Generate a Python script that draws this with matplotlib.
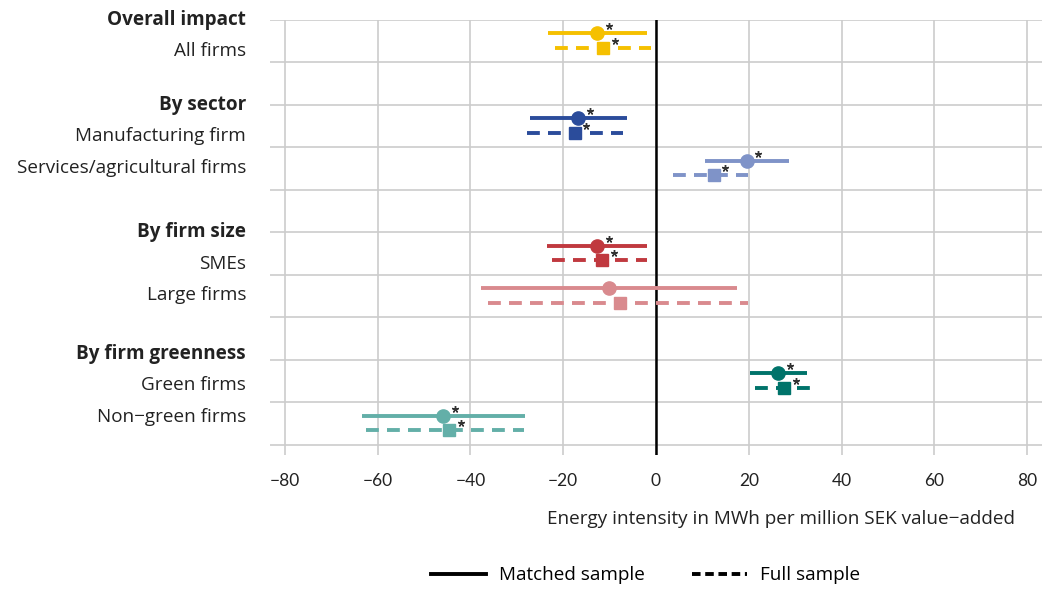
import numpy as np
import matplotlib.pyplot as plt
from matplotlib.lines import Line2D
from matplotlib.transforms import blended_transform_factory, ScaledTranslation

plt.rcParams['font.family'] = ['Open Sans', 'DejaVu Sans']

# Estimates and confidence bounds
categories = ["All firms", "Manufacturing firm", "Services/agricultural firms",
              "SMEs", "Large firms", "Green firms", "Non\u2212green firms"]
matched_est = [-12.7, -16.8, 19.6, -12.7, -10.1, 26.3, -45.9]
matched_lo = [-23.3, -27.2, 10.6, -23.5, -37.7, 20.3, -63.4]
matched_hi = [-2.0, -6.3, 28.7, -2.0, 17.5, 32.6, -28.2]
full_est = [-11.4, -17.5, 12.5, -11.6, -7.8, 27.6, -44.6]
full_lo = [-21.8, -27.8, 3.7, -22.4, -36.2, 21.3, -62.5]
full_hi = [-1.1, -7.1, 19.8, -1.9, 19.8, 33.2, -28.4]
significant = [True, True, True, True, False, True, True]
colors = ["#F5C000", "#2B4C9B", "#7F93C8", "#C0393F", "#D98A8E", "#00736A", "#63AFA8"]

groups = ["Overall impact", "By sector", "By firm size", "By firm greenness"]
group_of = [0, 1, 1, 2, 2, 3, 3]

# slot = category index + one blank row per preceding group
slots = [i + g for i, g in enumerate(group_of)]

fig = plt.figure(figsize=(10.47, 5.90), dpi=100)
ax = fig.add_axes([0.2579, 0.2288, 0.7373, 0.7373])

# stars sit up and to the right of each marker
star_tr = ax.transData + ScaledTranslation(0.115, 0.07, fig.dpi_scale_trans)

lw = 2.8
dash = (0, (3.3, 2.1))
for i, s in enumerate(slots):
    c = colors[i]
    ym = s + 0.31
    yf = s + 0.66
    ax.plot([matched_lo[i], matched_hi[i]], [ym, ym], color=c, lw=lw,
            solid_capstyle='butt', zorder=3)
    ax.plot(matched_est[i], ym, 'o', color=c, ms=9.5, zorder=4)
    ax.plot([full_lo[i], full_hi[i]], [yf, yf], color=c, lw=lw, ls=dash,
            dash_capstyle='butt', zorder=3)
    ax.plot(full_est[i], yf, 's', color=c, ms=9, zorder=4)
    if significant[i]:
        ax.plot([matched_est[i], full_est[i]], [ym, yf], ls='none',
                marker=(5, 2, 0), ms=5, mew=1.0, color='#333333',
                transform=star_tr, zorder=5)

ax.axvline(0, color='black', lw=1.8, zorder=2)

ax.set_xlim(-83.2, 83.2)
ax.set_ylim(10.24, 0)
ax.set_xticks(np.arange(-80, 81, 20))
ax.set_yticks(np.arange(0, 11))
ax.set_yticklabels([])
ax.grid(True, color='#cccccc', lw=1.2, zorder=0)
ax.tick_params(axis='both', length=0, labelsize=12.5, pad=13, colors='#222222')
for lab in ax.get_xticklabels():
    lab.set_family(['Lato', 'DejaVu Sans'])
for sp in ax.spines.values():
    sp.set_visible(False)

# Row labels at the left
fs = 13.6
trans = blended_transform_factory(ax.transAxes, ax.transData)
header_y = [0.0, 2.0, 5.0, 7.86]
for g, name in enumerate(groups):
    ax.text(-0.031, header_y[g], name, transform=trans, ha='right', va='center',
            fontsize=fs, fontweight='bold', color='#222222')
    members = [i for i, gg in enumerate(group_of) if gg == g]
    for k, i in enumerate(members):
        ax.text(-0.031, header_y[g] + 0.74 * (k + 1), categories[i], transform=trans,
                ha='right', va='center', fontsize=fs, color='#222222')

fig.text(0.9695, 0.12, "Energy intensity in MWh per million SEK value\u2212added",
         ha='right', va='center', fontsize=fs, color='#222222')

handles = [Line2D([], [], color='black', lw=2.8),
           Line2D([], [], color='black', lw=2.8, ls=(0, (2.2, 1.2)))]
fig.legend(handles, ["Matched sample", "Full sample"], loc='center',
           bbox_to_anchor=(0.617, 0.025), ncol=2, frameon=False, fontsize=fs,
           handlelength=2.9, columnspacing=2.5, handletextpad=0.7)

fig.savefig("out.png", dpi=100)
